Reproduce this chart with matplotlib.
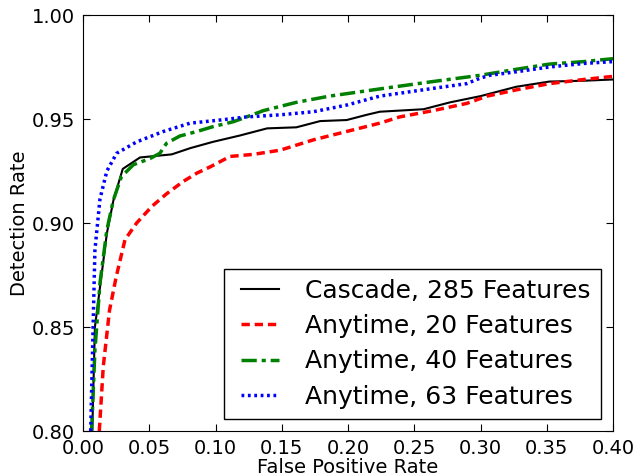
import numpy as np
from matplotlib import pyplot as plt
from matplotlib.lines import Line2D
from matplotlib.legend_handler import HandlerLine2D

# values
cascade_x = [0.007, 0.009, 0.018, 0.023, 0.030, 0.043, 0.067, 0.081, 0.098, 0.118, 0.139, 0.161, 0.179,
             0.199, 0.214, 0.224, 0.257, 0.277, 0.300, 0.315, 0.327, 0.352, 0.378, 0.400]
cascade_y = [0.800, 0.850, 0.895, 0.911, 0.926, 0.9315, 0.933, 0.936, 0.939, 0.942, 0.9455, 0.946, 0.949,
             0.9495, 0.952, 0.9535, 0.9547, 0.958, 0.961, 0.9635, 0.9655, 0.968, 0.9684, 0.969]

any20_x = [0.0123, 0.0153, 0.020, 0.025, 0.0317, 0.0405, 0.052, 0.063, 0.0757, 0.086, 0.096, 0.111, 0.1286,
           0.1487, 0.174, 0.199, 0.224, 0.239, 0.264, 0.2896, 0.305, 0.327, 0.352, 0.378, 0.400]
any20_y = [0.800, 0.831, 0.858, 0.874, 0.892, 0.900, 0.908, 0.914, 0.920, 0.924, 0.927, 0.932, 0.933,
           0.935, 0.940, 0.944, 0.948, 0.951, 0.954, 0.9575, 0.961, 0.964, 0.967, 0.969, 0.9705]

any40_x = [0.0065, 0.009, 0.0128, 0.018, 0.0229, 0.029, 0.038, 0.0506, 0.058, 0.063, 0.073, 0.086, 0.098,
           0.1135, 0.1235, 0.136, 0.161, 0.186, 0.2015, 0.2266, 0.264, 0.2996, 0.327, 0.352, 0.378, 0.400]
any40_y = [0.800, 0.839, 0.871, 0.8966, 0.911, 0.9223, 0.928, 0.931, 0.9335, 0.9383, 0.9418, 0.944, 0.9463,
           0.9487, 0.951, 0.954, 0.958, 0.961, 0.9624, 0.9647, 0.968, 0.971, 0.9739, 0.9764, 0.9776, 0.979]

any63_x = [0.0058, 0.0078, 0.009, 0.0128, 0.018, 0.0254, 0.0405, 0.0606, 0.0808, 0.1034, 0.1235, 0.1487,
           0.174, 0.199, 0.224, 0.264, 0.2896, 0.2996, 0.307, 0.327, 0.352, 0.378, 0.400]
any63_y = [0.800, 0.855, 0.887, 0.9115, 0.925, 0.9335, 0.939, 0.944, 0.948, 0.9495, 0.951, 0.952,
           0.9535, 0.9567, 0.961, 0.9647, 0.967, 0.9696, 0.971, 0.9727, 0.975, 0.9767, 0.9776]

labels = ["Cascade, 285 Features", "Anytime, 20 Features", "Anytime, 40 Features", "Anytime, 63 Features"]
x_ticks = [0.00, 0.05, 0.10, 0.15, 0.20, 0.25, 0.30, 0.35, 0.40]
y_ticks = [0.80, 0.85, 0.90, 0.95, 1.00]

plt.rcParams["lines.scale_dashes"] = False

fig = plt.figure(figsize=(6.37, 4.73), dpi=100)
ax = fig.add_axes([83/637, 42/473, 530/637, 416/473])

ax.plot(cascade_x, cascade_y, color="k", ls="-", lw=1.5, label=labels[0])
ax.plot(any20_x, any20_y, color="r", ls=(0, (6, 3.5)), lw=2.5, label=labels[1])
ax.plot(any40_x, any40_y, color="g", ls=(0, (11, 3.5, 3, 3.5)), lw=2.5, label=labels[2])
ax.plot(any63_x, any63_y, color="b", ls=(0, (2, 2.6)), lw=2.5, label=labels[3])

ax.set_xlim(0, 0.40)
ax.set_ylim(0.80, 1.00)
ax.set_xticks(x_ticks)
ax.set_yticks(y_ticks)
ax.set_xticklabels(["%.2f" % t for t in x_ticks])
ax.set_yticklabels(["%.2f" % t for t in y_ticks])
ax.tick_params(direction="in", top=True, right=True, labelsize=14, length=5, pad=6)
ax.set_xlabel("False Positive Rate", fontsize=14, labelpad=0)
ax.set_ylabel("Detection Rate", fontsize=14, labelpad=2)

ax.legend(loc="lower right", fontsize=18, fancybox=False, framealpha=1, edgecolor="k",
          handlelength=1.8, handletextpad=1.04, labelspacing=0.45, borderaxespad=0.5,
          handler_map={Line2D: HandlerLine2D(xpad=0.28)})

fig.savefig("out.png", dpi=100)
